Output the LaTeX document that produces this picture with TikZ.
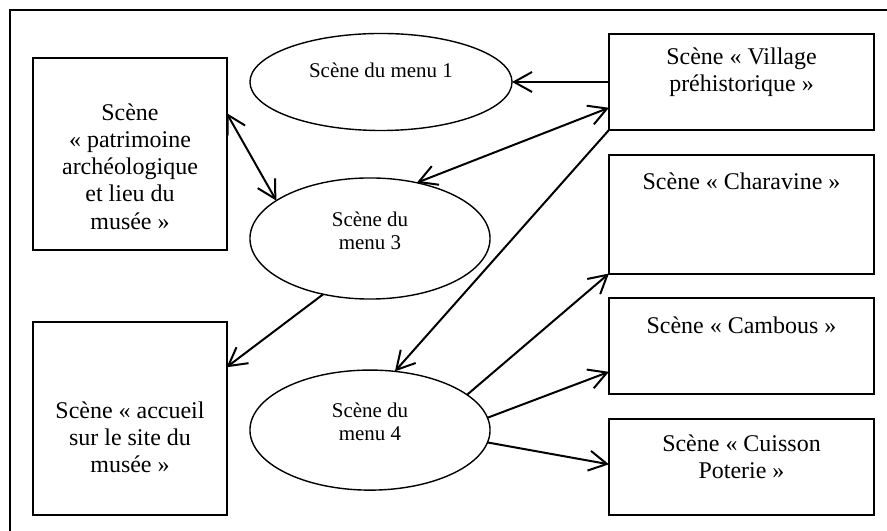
\documentclass[tikz,border=0pt]{standalone}
\usepackage{fontspec}
\setmainfont{Liberation Serif}
\usetikzlibrary{shapes.geometric, arrows.meta, positioning}

\begin{document}
\begin{tikzpicture}[x=0.0176cm, y=-0.0176cm]
	\tikzstyle{scene} = [rectangle, draw=black, line width=1pt, minimum width=4.664cm, minimum height=1.69cm, inner sep=0pt, outer sep=0pt]
	\tikzstyle{menu} = [ellipse, draw=black, line width=0.7pt, minimum width=4.224cm, inner sep=0pt, outer sep=0pt]
	\tikzstyle{sceneText} = [align=center, font=\fontsize{12}{13.6}\selectfont]
	\tikzstyle{menuText} = [align=center, font=\fontsize{10.5}{11.6}\selectfont]
	\tikzstyle{arrow} = [line width=1pt, -{Straight Barb[length=9pt, width=10pt]}]
	\tikzstyle{biArrow} = [line width=1pt, {Straight Barb[length=9pt, width=10pt]}-{Straight Barb[length=9pt, width=10pt]}]
	\useasboundingbox (0,0) rectangle (887,531);
	% frame
	\draw [line width=1pt] (10,531) -- (10,10) -- (887,10);
	% scenes on the right
	\node (village) [scene, label={[sceneText, yshift=4.8pt]center:{Scène « Village\\préhistorique »}}] at (741.5,82) {};
	\node (charavine) [scene, minimum height=2.094cm, below=0.431cm of village, label={[sceneText, yshift=16.3pt]center:{Scène « Charavine »}}] {};
	\node (cambous) [scene, below=0.431cm of charavine, label={[sceneText, yshift=10.5pt]center:{Scène « Cambous »}}] {};
	\node (cuisson) [scene, below=0.431cm of cambous, label={[sceneText, yshift=4.8pt]center:{Scène « Cuisson\\Poterie »}}] {};
	% scenes on the left
	\node (patrimoine) [scene, minimum width=3.397cm, minimum height=3.38cm, label={[sceneText, yshift=-6.3pt]center:{Scène\\« patrimoine\\archéologique\\et lieu du\\musée »}}] at (130,154) {};
	\node (accueil) [scene, minimum width=3.397cm, minimum height=3.397cm, below=1.267cm of patrimoine, label={[sceneText, yshift=-9.3pt]center:{Scène « accueil\\sur le site du\\musée »}}] {};
	% menus
	\node (menu1) [menu, minimum width=4.611cm, minimum height=1.707cm, label={[menuText, yshift=6pt]center:{Scène du menu 1}}] at (381,82) {};
	\node (menu3) [menu, minimum height=2.13cm, label={[menuText, yshift=4pt]center:{Scène du\\menu 3}}] at (370,238.5) {};
	\node (menu4) [menu, minimum height=2.112cm, below=1.25cm of menu3, label={[menuText, yshift=4pt]center:{Scène du\\menu 4}}] {};
	% links
	\draw [arrow] (village.west) -- (menu1.east);
	\draw [biArrow] (patrimoine.23.5) -- (menu3.158);
	\draw [biArrow] (menu3.50) -- (village.191);
	\draw [arrow] (menu3.230) -- (accueil.28);
	\draw [arrow] (village.south west) -- (menu4.67);
	\draw [arrow] (menu4.20) -- (charavine.south west);
	\draw [arrow] (menu4.6) -- (cambous.191);
	\draw [arrow] (menu4.354) -- (cuisson.179);
\end{tikzpicture}
\end{document}
